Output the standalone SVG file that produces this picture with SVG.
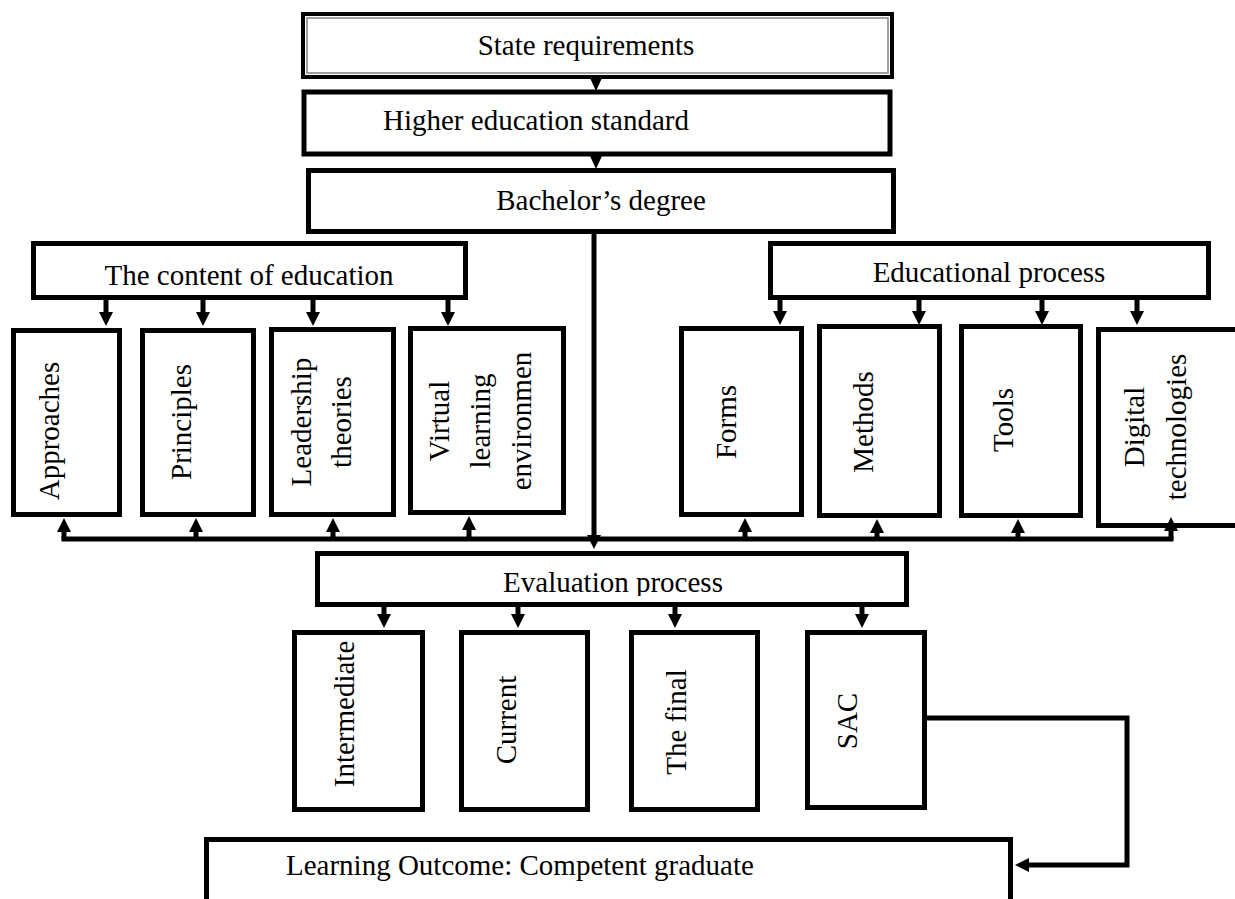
<svg xmlns="http://www.w3.org/2000/svg" width="1235" height="899" viewBox="0 0 1235 899">
<style>
.box{fill:#fff;stroke:#000;stroke-width:5}
.t{font-family:"Liberation Serif","Times New Roman",serif;font-size:29px;fill:#000}
.m{text-anchor:middle}
.c{stroke:#000;stroke-width:5;fill:none}
.ah{fill:#000}
</style>
<defs>
<marker id="arr" markerUnits="userSpaceOnUse" markerWidth="14" markerHeight="14" viewBox="0 0 14 14" refX="4" refY="7" orient="auto">
<path d="M0,0 L14,7 L0,14 z" fill="#000"/>
</marker>
<clipPath id="evclip"><rect x="315" y="551" width="594" height="45"/></clipPath>
</defs>
<rect width="1235" height="899" fill="#fff"/>

<g id="state">
<rect x="303" y="14" width="589" height="63" fill="#fff" stroke="#000" stroke-width="4"/>
<rect x="307" y="18" width="581" height="55" fill="none" stroke="#808080" stroke-width="1.5"/>
<text class="t m" x="586" y="55">State requirements</text>
</g>
<g id="higher">
<rect x="304" y="92" width="586" height="62" class="box" stroke-width="6"/>
<text class="t" x="383" y="130">Higher education standard</text>
</g>
<g id="bachelor">
<rect x="308.5" y="170.5" width="585" height="61" class="box"/>
<text class="t m" x="601" y="210">Bachelor’s degree</text>
</g>
<g id="content">
<rect x="33.5" y="243.5" width="432" height="54" class="box"/>
<text class="t m" x="249" y="285">The content of education</text>
</g>
<g id="eduprocess">
<rect x="770.5" y="243.5" width="438" height="54" class="box"/>
<text class="t m" x="989" y="282">Educational process</text>
</g>
<g id="approaches">
<rect x="13.5" y="330.5" width="106" height="184" class="box"/>
<text class="t m" transform="translate(59,431) rotate(-90)">Approaches</text>
</g>
<g id="principles">
<rect x="142.5" y="330.5" width="111" height="184" class="box"/>
<text class="t m" transform="translate(191,422) rotate(-90)">Principles</text>
</g>
<g id="leadership">
<rect x="271.5" y="329.5" width="122" height="185" class="box"/>
<text class="t m" transform="translate(311,422) rotate(-90)"><tspan x="0" y="0">Leadership</tspan><tspan x="0" y="40">theories</tspan></text>
</g>
<g id="virtual">
<rect x="410.5" y="328.5" width="153" height="184" class="box"/>
<text class="t m" transform="translate(449,421) rotate(-90)"><tspan x="0" y="0">Virtual</tspan><tspan x="0" y="41">learning</tspan><tspan x="0" y="82">environmen</tspan></text>
</g>
<g id="forms">
<rect x="681.5" y="328.5" width="120" height="186" class="box"/>
<text class="t m" transform="translate(736,422) rotate(-90)">Forms</text>
</g>
<g id="methods">
<rect x="819.5" y="326.5" width="120" height="189" class="box"/>
<text class="t m" transform="translate(873,422) rotate(-90)">Methods</text>
</g>
<g id="tools">
<rect x="961.5" y="326.5" width="119" height="189" class="box"/>
<text class="t m" transform="translate(1013,420) rotate(-90)">Tools</text>
</g>
<g id="digital">
<rect x="1098.5" y="329.5" width="150" height="196" class="box"/>
<text class="t m" transform="translate(1144,427) rotate(-90)"><tspan x="0" y="0">Digital</tspan><tspan x="0" y="42">technologies</tspan></text>
</g>
<g id="evaluation">
<rect x="317.5" y="553.5" width="589" height="51" class="box"/>
<text class="t m" x="613" y="592" clip-path="url(#evclip)">Evaluation process</text>
</g>
<g id="intermediate">
<rect x="294.5" y="632.5" width="128" height="177" class="box"/>
<text class="t m" transform="translate(354,714) rotate(-90)">Intermediate</text>
</g>
<g id="current">
<rect x="461.5" y="632.5" width="126" height="177" class="box"/>
<text class="t m" transform="translate(516,720) rotate(-90)">Current</text>
</g>
<g id="final">
<rect x="631.5" y="632.5" width="126" height="177" class="box"/>
<text class="t m" transform="translate(686,722) rotate(-90)">The final</text>
</g>
<g id="sac">
<rect x="807.5" y="632.5" width="117" height="175" class="box"/>
<text class="t m" transform="translate(857,721) rotate(-90)">SAC</text>
</g>
<g id="outcome">
<rect x="206.5" y="839.5" width="804" height="90" class="box"/>
<text class="t" x="286" y="875">Learning Outcome: Competent graduate</text>
</g>

<g id="connectors">
<polygon class="ah" points="590,78 602,78 596,91"/>
<polygon class="ah" points="590,156 602,156 596,169"/>
<line class="c" x1="594" y1="234" x2="594" y2="539" marker-end="url(#arr)"/>
<line class="c" x1="106" y1="300" x2="106" y2="316" marker-end="url(#arr)"/>
<line class="c" x1="203" y1="300" x2="203" y2="316" marker-end="url(#arr)"/>
<line class="c" x1="313" y1="300" x2="313" y2="316" marker-end="url(#arr)"/>
<line class="c" x1="448" y1="300" x2="448" y2="316" marker-end="url(#arr)"/>
<line class="c" x1="780" y1="300" x2="780" y2="315" marker-end="url(#arr)"/>
<line class="c" x1="919" y1="300" x2="919" y2="315" marker-end="url(#arr)"/>
<line class="c" x1="1042" y1="300" x2="1042" y2="315" marker-end="url(#arr)"/>
<line class="c" x1="1137" y1="300" x2="1137" y2="315" marker-end="url(#arr)"/>
<line class="c" x1="61.5" y1="539" x2="1173.5" y2="539"/>
<line class="c" x1="64" y1="539" x2="64" y2="528" marker-end="url(#arr)"/>
<line class="c" x1="196" y1="539" x2="196" y2="528" marker-end="url(#arr)"/>
<line class="c" x1="333" y1="539" x2="333" y2="528" marker-end="url(#arr)"/>
<line class="c" x1="469" y1="539" x2="469" y2="526" marker-end="url(#arr)"/>
<line class="c" x1="745" y1="539" x2="745" y2="528" marker-end="url(#arr)"/>
<line class="c" x1="877" y1="539" x2="877" y2="529" marker-end="url(#arr)"/>
<line class="c" x1="1018" y1="539" x2="1018" y2="529" marker-end="url(#arr)"/>
<line class="c" x1="1171" y1="539" x2="1171" y2="527" marker-end="url(#arr)"/>
<line class="c" x1="384" y1="607" x2="384" y2="618" marker-end="url(#arr)"/>
<line class="c" x1="518" y1="607" x2="518" y2="618" marker-end="url(#arr)"/>
<line class="c" x1="675" y1="607" x2="675" y2="618" marker-end="url(#arr)"/>
<line class="c" x1="862" y1="607" x2="862" y2="618" marker-end="url(#arr)"/>
<polyline class="c" points="927,718 1127,718 1127,865 1025,865" marker-end="url(#arr)"/>
</g>
</svg>
